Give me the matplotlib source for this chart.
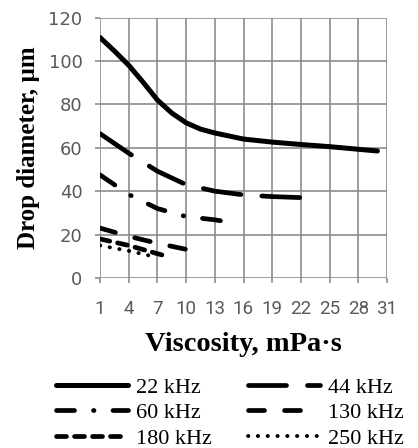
import matplotlib
matplotlib.use("Agg")
import matplotlib.pyplot as plt
from matplotlib.ticker import MultipleLocator

# drop diameter (um) against viscosity (mPa*s) for each frequency
x_22 = [1, 2.5, 4, 5.5, 7, 8.5, 10, 11.5, 13, 16, 19, 22, 25, 28, 30]
d_22 = [110.8, 104.6, 98, 90.2, 82, 76, 71.5, 68.6, 66.8, 64, 62.6, 61.5, 60.5, 59.3, 58.5]

x_44 = [1, 4, 7, 10, 13, 16, 19, 22.2]
d_44 = [66.5, 57.5, 49.2, 43, 40, 38.3, 37.5, 37]

x_60 = [1, 4, 7, 10, 13, 14.4]
d_60 = [47.5, 38.5, 32, 28.3, 26.8, 25.8]

x_130 = [1, 4, 7, 10]
d_130 = [23, 19.2, 16, 13.2]

x_180 = [1, 4, 7, 8]
d_180 = [18, 15, 11.2, 10]

x_250 = [1, 4, 7]
d_250 = [15, 12.5, 9.5]

labels = ["22 kHz", "44 kHz", "60 kHz", "130 kHz", "180 kHz", "250 kHz"]

PX = 0.72  # points per pixel at dpi 100
plt.rcParams["lines.scale_dashes"] = False

fig = plt.figure(figsize=(4.18, 4.48), dpi=100)
ax = fig.add_axes([100 / 418, 1 - 278 / 448, 287 / 418, 260.5 / 448])

lw = 3.4
def dash(*px):
    return (0, tuple(p * PX for p in px))

style = dict(color="black", solid_capstyle="round", dash_capstyle="round")
h22, = ax.plot(x_22, d_22, lw=3.6, **style)
h44, = ax.plot(x_44, d_44, lw=lw, ls=dash(38, 21), **style)
h60, = ax.plot(x_60, d_60, lw=lw, ls=dash(18, 19, 0.5, 19), **style)
h130, = ax.plot(x_130, d_130, lw=lw, ls=dash(16, 20), **style)
h180, = ax.plot(x_180, d_180, lw=lw, ls=dash(10, 8), **style)
h250, = ax.plot(x_250, d_250, lw=2.8, ls=dash(0.3, 9.5), **style)

ax.set_xlim(1, 31)
ax.set_ylim(0, 120)
ax.set_xticks(range(1, 32, 3))
ax.yaxis.set_major_locator(MultipleLocator(20))
ax.grid(True, color="#8c8c8c", lw=1.2)
ax.set_axisbelow(True)
for s in ax.spines.values():
    s.set_visible(False)
ax.tick_params(axis="both", color="#8c8c8c", width=1.2, length=5 * PX,
               labelcolor="#595959")
ax.tick_params(axis="y", pad=9)
ax.tick_params(axis="x", pad=12)
for t in ax.get_yticklabels():
    t.set_fontfamily("DejaVu Sans")
    t.set_fontsize(13)
for t in ax.get_xticklabels():
    t.set_fontfamily("Roboto")
    t.set_fontsize(13.5)

ax.set_xlabel("Viscosity, mPa·s", family="Liberation Serif", weight="bold",
              fontsize=20.5, labelpad=10)
ax.set_ylabel("Drop diameter, µm", family="Liberation Serif", weight="bold",
              fontsize=18, labelpad=6)

# legend reads row by row: 22/44, 60/130, 180/250
order = [0, 2, 4, 1, 3, 5]
handles = [h22, h44, h60, h130, h180, h250]
fig.legend([handles[i] for i in order], [labels[i] for i in order],
           ncol=2, frameon=False,
           loc="upper left", bbox_to_anchor=(45 / 418, 1 - 366 / 448),
           prop={"family": "Liberation Serif", "size": 16},
           handlelength=3.25, handletextpad=0.35, columnspacing=1.63,
           labelspacing=0.22, borderpad=0)

fig.savefig("out.png", dpi=100)
